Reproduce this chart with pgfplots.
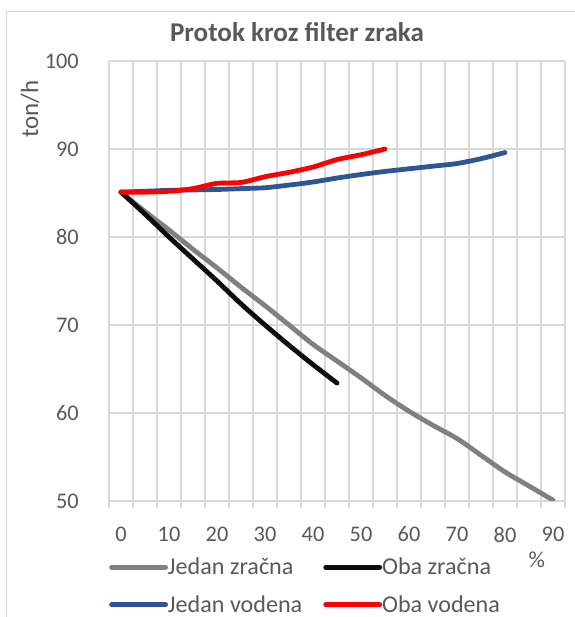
\documentclass[border=0pt]{standalone}
\usepackage{fontspec}
\setmainfont{Carlito}
\usepackage{pgfplots}
\pgfplotsset{compat=1.18}
\definecolor{gridc}{HTML}{D9D9D9}
\definecolor{txt}{HTML}{595959}
\definecolor{cgrey}{HTML}{808080}
\definecolor{cblack}{HTML}{0D0D0D}
\definecolor{cblue}{HTML}{2F5597}
\definecolor{cred}{HTML}{FF0000}
\begin{document}
\begin{tikzpicture}
\path[use as bounding box] (0,0) rectangle (575bp,617bp);
\draw[gridc, line width=1.2bp] (6.5bp,-5bp) -- (6.5bp,605.5bp) -- (600bp,605.5bp);
\begin{axis}[
  at={(109bp,116bp)}, anchor=south west,
  scale only axis, width=456bp, height=440bp,
  xmin=-2.5, xmax=92.5, ymin=50, ymax=100,
  axis line style={draw=none},
  xtick={-2.5,2.5,...,92.5}, xticklabels={},
  extra x ticks={0,10,...,90},
  extra x tick style={grid=none, major tick length=0pt, tick style={draw=none}},
  ytick={50,60,...,100},
  ytick style={draw=none},
  xtick pos=bottom, ytick pos=left,
  tick align=outside,
  major tick length=7bp,
  every tick/.style={gridc, line width=1.2bp},
  grid=major,
  major grid style={gridc, line width=1.2bp},
  /pgf/number format/assume math mode=true,
  ticklabel style={font=\fontsize{22.4}{26}\selectfont, text=txt},
  xticklabel style={anchor=center, yshift=-33.5bp, inner sep=0pt},
  yticklabel style={anchor=east, xshift=-23bp, inner sep=0pt},
  title={Protok kroz filter zraka},
  title style={at={(axis description cs:0.4123,1.0523)}, anchor=center, font=\bfseries\fontsize{27.2}{31}\selectfont, text=txt},
  xlabel={\%},
  xlabel style={at={(axis description cs:0.938,-0.1325)}, anchor=center, font=\fontsize{23}{27}\selectfont, text=txt},
  ylabel={ton/h},
  ylabel style={at={(axis description cs:-0.1732,0.8909)}, anchor=center, font=\fontsize{25}{30}\selectfont, text=txt},
  legend columns=2,
  legend cell align=left,
  legend style={at={(axis description cs:0,-0.1932)}, anchor=west, draw=none, fill=none, inner sep=0pt,
    font=\fontsize{24.2}{29}\selectfont, text=txt, nodes={inner sep=0pt},
    /tikz/every odd column/.append style={column sep=0bp},
    /tikz/every even column/.append style={column sep=21bp},
    row sep=19.5bp},
  legend image code/.code={\path (0bp,0bp) -- (54bp,0bp); \draw[#1, line width=4bp, line cap=round] (2bp,0bp) -- (52bp,0bp);},
  every axis plot/.append style={line width=4.8bp, line cap=round, line join=round, smooth, tension=0.5},
]
\addplot[cgrey] coordinates {(0,85.1)(5,82.9)(10,80.8)(15,78.6)(20,76.5)(25,74.3)(30,72.2)(35,70.0)(40,67.8)(45,65.9)(50,64.0)(55,62.0)(60,60.2)(65,58.6)(70,57.1)(75,55.2)(80,53.3)(85,51.7)(90,50.1)};
\addlegendentry{Jedan zračna}
\addplot[cblack] coordinates {(0,85.1)(5,82.6)(10,80.0)(15,77.5)(20,75.0)(25,72.4)(30,70.0)(35,67.7)(40,65.5)(45,63.4)};
\addlegendentry{Oba zračna}
\addplot[cblue] coordinates {(0,85.1)(5,85.2)(10,85.3)(15,85.35)(20,85.4)(25,85.5)(30,85.6)(35,85.9)(40,86.25)(45,86.7)(50,87.1)(55,87.45)(60,87.75)(65,88.05)(70,88.35)(75,88.9)(80,89.6)};
\addlegendentry{Jedan vodena}
\addplot[cred] coordinates {(0,85.1)(5,85.1)(10,85.2)(15,85.5)(20,86.1)(25,86.2)(30,86.85)(35,87.35)(40,87.95)(45,88.8)(50,89.35)(55,90.0)};
\addlegendentry{Oba vodena}
\end{axis}
\end{tikzpicture}
\end{document}
